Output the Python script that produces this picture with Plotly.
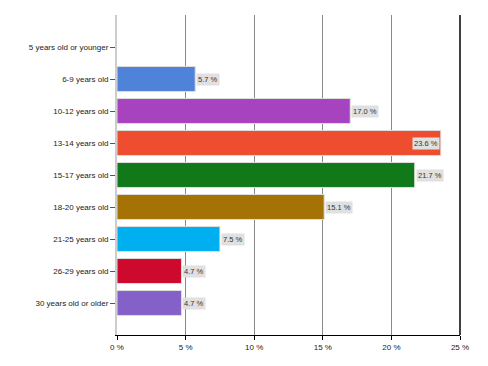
import plotly.graph_objects as go

categories = ["5 years old or younger", "6-9 years old", "10-12 years old", "13-14 years old",
              "15-17 years old", "18-20 years old", "21-25 years old", "26-29 years old",
              "30 years old or older"]
values = [0, 5.7, 17.0, 23.6, 21.7, 15.1, 7.5, 4.7, 4.7]
colors = ["#cccccc", "#4f82d9", "#a843bf", "#ef4d30", "#12791a", "#a57206",
          "#00afef", "#cd0a2e", "#8461c9"]
x_ticks = [0, 5, 10, 15, 20, 25]

fig = go.Figure()
fig.add_trace(go.Bar(
    x=values, y=categories, orientation="h",
    marker=dict(color=colors,
                line=dict(color="#dddddd", width=[0 if v <= 0 else 1 for v in values])),
    width=0.78, hoverinfo="x+y",
))

annotations = []
for c, v in zip(categories, values):
    if v <= 0:
        continue
    inside = v > 23
    annotations.append(dict(
        x=v, y=c, xref="x", yref="y", text=f"{v:.1f} %", showarrow=False,
        xanchor="right" if inside else "left", xshift=-1 if inside else 1,
        bgcolor="#e0e0e0", borderpad=1,
        font=dict(family="Liberation Sans, Arial, sans-serif", size=7.5, color="#333333"),
    ))

fig.update_layout(
    width=480, height=358,
    margin=dict(l=109, r=28, t=7, b=31),
    paper_bgcolor="white", plot_bgcolor="white",
    showlegend=False,
    font=dict(family="Liberation Sans, Arial, sans-serif", size=8, color="#222222"),
    annotations=annotations,
    shapes=[dict(type="line", xref="paper", yref="paper", x0=1, x1=1, y0=0, y1=1,
                 line=dict(color="black", width=1.5))],
)
fig.update_xaxes(
    range=[0, 25], tickvals=x_ticks, ticktext=[f"{t} %" for t in x_ticks],
    showgrid=True, gridcolor="#8a8a8a", gridwidth=1, zeroline=False,
    showline=True, linecolor="black", linewidth=1,
    ticks="outside", ticklen=4, tickcolor="black",
    tickfont=dict(size=8, color="#222222"), fixedrange=True,
)
fig.update_yaxes(
    type="category", categoryorder="array", categoryarray=categories,
    range=[len(categories), -1],
    showgrid=False, zeroline=False,
    showline=True, linecolor="#cccccc", linewidth=2,
    ticks="outside", ticklen=5, tickcolor="#555555",
    tickfont=dict(size=8, color="#222222"), fixedrange=True,
)

fig.write_html("out.html")
